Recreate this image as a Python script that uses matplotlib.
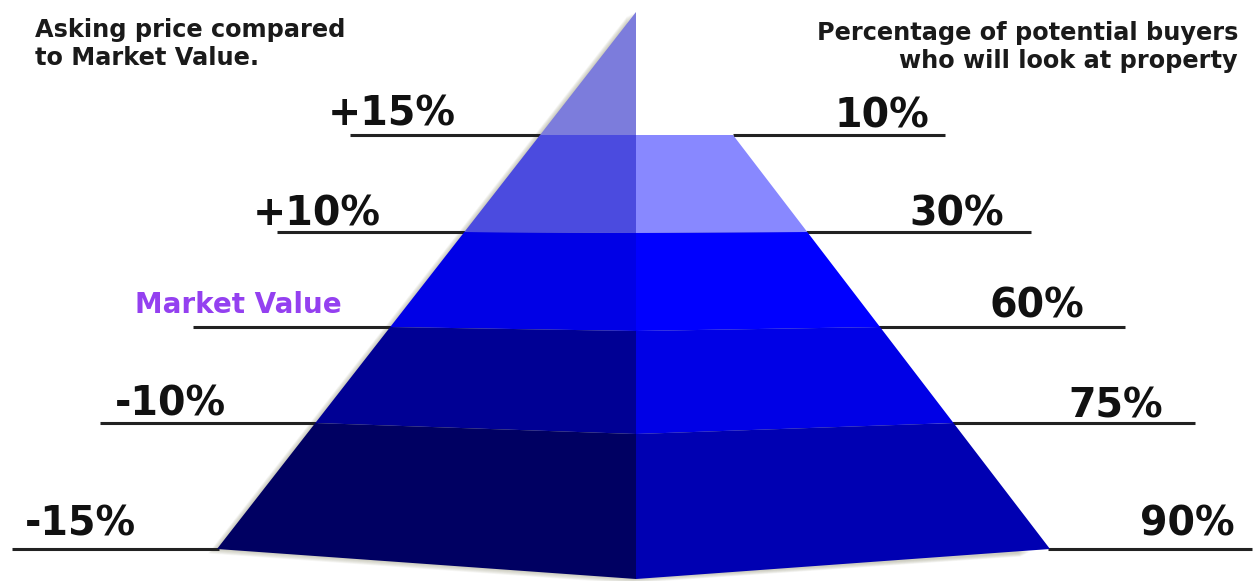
import matplotlib
matplotlib.use('Agg')
import matplotlib.pyplot as plt
from matplotlib.patches import Polygon

# ---- data ----
asking_labels = ['+15%', '+10%', 'Market Value', '-10%', '-15%']
buyer_pct = [10, 30, 60, 75, 90]
buyer_labels = [f'{v}%' for v in buyer_pct]
left_title = 'Asking price compared\nto Market Value.'
right_title = 'Percentage of potential buyers\nwho will look at property'

# ---- layout (pixel space) ----
W, H = 1254, 581
fig = plt.figure(figsize=(W / 100, H / 100), dpi=100)
ax = fig.add_axes([0, 0, 1, 1])
ax.set_xlim(0, W)
ax.set_ylim(H, 0)
ax.axis('off')

cx = 636
apex_y = 12
level_y = [135, 232, 327, 423, 549]
center_drop = [0, 1, 4, 11, 30]


def left_x(y):
    return cx - (y - apex_y) * (cx - 217) / (549 - apex_y)


def right_x(y):
    return 733 + (y - 135) * (1050 - 733) / (549 - 135)


left_colors = ['#7C7CDC', '#4B4BDF', '#0000E6', '#000094', '#000062']
right_colors = [None, '#8888FF', '#0000FF', '#0000E6', '#0000B2']

# soft shadow along the left edge and base
sil = [(cx, apex_y), (left_x(549), 549), (cx, 549 + center_drop[-1]),
       (right_x(549) - 20, 549 + 3), (right_x(135), 135), (cx, 135)]
for k in range(1, 11):
    pts = [(x - k * 0.9, y + k * 0.45) for x, y in sil]
    ax.add_patch(Polygon(pts, closed=True, facecolor='#A8A890', edgecolor='none',
                         alpha=0.07, zorder=1))

# guide lines
left_starts = [350, 277, 193, 100, 12]
right_ends = [945, 1031, 1125, 1195, 1252]
for i, y in enumerate(level_y):
    ax.plot([left_starts[i], left_x(y) + 2], [y, y], color='#222222', lw=2.2,
            solid_capstyle='butt', zorder=2)
    ax.plot([right_x(y) - 2 if i > 0 else 733, right_ends[i]], [y, y],
            color='#222222', lw=2.2, solid_capstyle='butt', zorder=2)

# left face
y0 = level_y[0]
ax.add_patch(Polygon([(cx, apex_y), (left_x(y0), y0), (cx, y0 + center_drop[0])],
                     closed=True, facecolor=left_colors[0], edgecolor='none', zorder=3))
for i in range(4):
    ya, yb = level_y[i], level_y[i + 1]
    da, db = center_drop[i], center_drop[i + 1]
    ax.add_patch(Polygon([(left_x(ya), ya), (cx, ya + da), (cx, yb + db), (left_x(yb), yb)],
                         closed=True, facecolor=left_colors[i + 1], edgecolor='none', zorder=3))
    ax.add_patch(Polygon([(cx, ya + da), (right_x(ya), ya), (right_x(yb), yb), (cx, yb + db)],
                         closed=True, facecolor=right_colors[i + 1], edgecolor='none', zorder=3))

# labels
fam = 'DejaVu Sans'
left_pos = [(328, 125), (253, 225), (135, 313), (115, 415), (25, 535)]
right_pos = [(835, 128), (909, 226), (990, 318), (1068, 417), (1140, 535)]
for i, lab in enumerate(asking_labels):
    x, y = left_pos[i]
    if lab == 'Market Value':
        ax.text(x, y, lab, fontsize=20, fontweight='bold', family=fam,
                color='#9440F0', ha='left', va='baseline', zorder=5)
    else:
        ax.text(x, y, lab, fontsize=28.5, fontweight='bold', family=fam,
                color='#111111', ha='left', va='baseline', zorder=5)
for i, lab in enumerate(buyer_labels):
    x, y = right_pos[i]
    ax.text(x, y, lab, fontsize=28.5, fontweight='bold', family=fam,
            color='#111111', ha='left', va='baseline', zorder=5)

ax.text(35, 18, left_title, fontsize=17.3, fontweight='bold', family=fam,
        color='#1a1a1a', ha='left', va='top', linespacing=1.22)
ax.text(1238, 21, right_title, fontsize=17.3, fontweight='bold', family=fam,
        color='#1a1a1a', ha='right', va='top', linespacing=1.22, multialignment='right')

fig.savefig('out.png', dpi=100, facecolor='white')
